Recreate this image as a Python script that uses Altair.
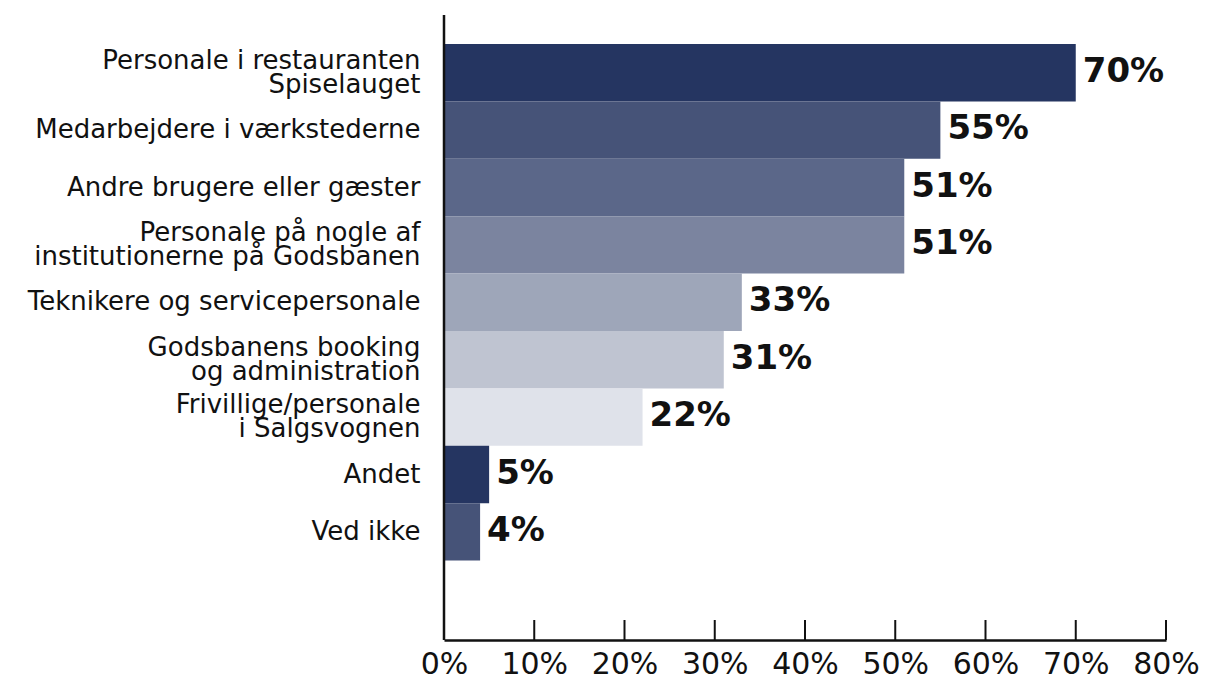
import altair as alt
import pandas as pd

categories = [
    "Personale i restauranten\nSpiselauget",
    "Medarbejdere i værkstederne",
    "Andre brugere eller gæster",
    "Personale på nogle af\ninstitutionerne på Godsbanen",
    "Teknikere og servicepersonale",
    "Godsbanens booking\nog administration",
    "Frivillige/personale\ni Salgsvognen",
    "Andet",
    "Ved ikke",
]
values = [70, 55, 51, 51, 33, 31, 22, 5, 4]
value_labels = ["70%", "55%", "51%", "51%", "33%", "31%", "22%", "5%", "4%"]
tick_values = [0, 10, 20, 30, 40, 50, 60, 70, 80]

bar_colors = ["#253561", "#465378", "#5b6789", "#7b849f", "#9ea6b9",
              "#bfc4d1", "#dfe2ea", "#253561", "#465378"]

FONT = "DejaVu Sans"
W, H = 722, 625
BAND = 57.4
Y0 = 29

df = pd.DataFrame({"cat": categories, "val": values, "lab": value_labels})
ticks_df = pd.DataFrame({"t": tick_values})

yscale = alt.Scale(domain=categories, range=[Y0, Y0 + BAND * len(categories)],
                   paddingInner=0, paddingOuter=0)
xscale = alt.Scale(domain=[0, 80], nice=False)

bars = alt.Chart(df).mark_bar(strokeWidth=0).encode(
    y=alt.Y("cat:N", scale=yscale, sort=categories,
            axis=alt.Axis(title=None, domain=False, ticks=False, labelPadding=24,
                          labelFontSize=26, labelFont=FONT, labelColor="#111",
                          labelLineHeight=24, labelLimit=600,
                          labelOffset={"condition": {"test": "indexof(datum.value, '\\n') >= 0",
                                                     "value": -12},
                                       "value": 0},
                          labelExpr="split(datum.label, '\\n')")),
    x=alt.X("val:Q", scale=xscale,
            axis=alt.Axis(title=None, values=tick_values, ticks=False, grid=False,
                          domainColor="#111", domainWidth=2.5, labelFlush=False,
                          labelFontSize=30, labelFont=FONT, labelColor="#111",
                          labelPadding=9, labelExpr="datum.value + '%'")),
    color=alt.Color("cat:N", scale=alt.Scale(domain=categories, range=bar_colors),
                    legend=None),
)

text = alt.Chart(df).mark_text(align="left", baseline="middle", dx=7, dy=-1,
                               fontSize=34, fontWeight="bold", font=FONT,
                               color="#111").encode(
    y=alt.Y("cat:N", scale=yscale, sort=categories),
    x=alt.X("val:Q", scale=xscale),
    text="lab:N",
)

tick_rules = alt.Chart(ticks_df).mark_rule(color="#111", strokeWidth=2).encode(
    x=alt.X("t:Q", scale=xscale),
    y=alt.value(H - 20),
    y2=alt.value(H),
)

yaxis_line = alt.Chart(pd.DataFrame({"a": [0]})).mark_rule(
    color="#111", strokeWidth=2.5).encode(
    x=alt.value(0), y=alt.value(0), y2=alt.value(H),
)

chart = alt.layer(bars, text, tick_rules, yaxis_line).properties(
    width=W, height=H,
    autosize=alt.AutoSizeParams(type="none"),
    padding={"left": 436, "top": 7, "right": 33, "bottom": 42},
).configure_view(strokeWidth=0)

chart.save("out.html", embed_options={"renderer": "svg", "actions": False})
